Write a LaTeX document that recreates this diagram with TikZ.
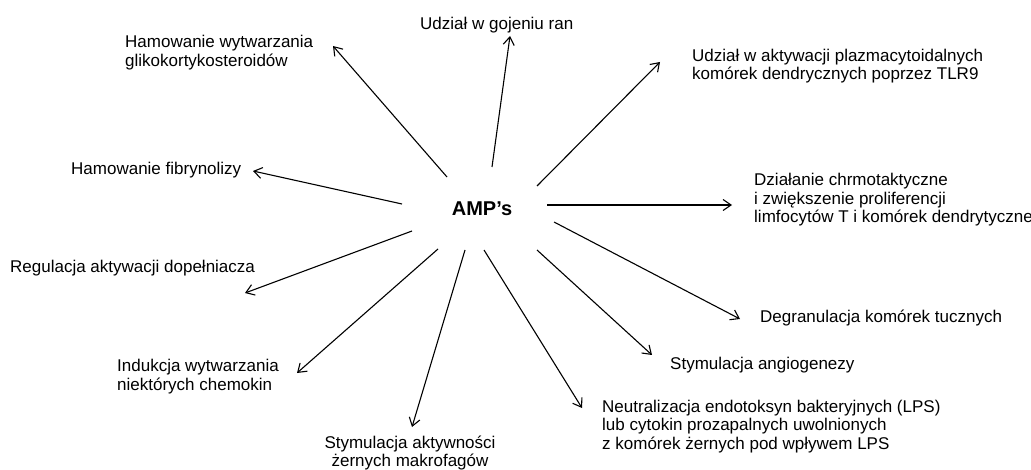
\documentclass[tikz,border=0pt]{standalone}
\usepackage{fontspec}
\setmainfont{Liberation Sans}
\usetikzlibrary{arrows.meta}
\newcommand{\lblfont}{\fontsize{17}{18.5}\selectfont}
\tikzset{
  lbl/.style={font=\lblfont, inner sep=0pt, align=left, anchor=base west},
  arr/.style={-{Straight Barb[length=8pt,width=11pt]}, line width=1.1pt},
}

\begin{document}
\begin{tikzpicture}[x=1pt, y=-1pt]
\useasboundingbox (0,0) rectangle (1031,470);
% centre
\node[font=\fontsize{20}{24}\selectfont\bfseries] (amp) at (482,209) {AMP’s};

% labels above (multi-line ones sit on their last line)
\node[lbl] (goj) at (420,30) {Udział w gojeniu ran};
\node[lbl] (glik) at (125,66.5) {Hamowanie wytwarzania\\glikokortykosteroidów};
\node[lbl] (tlr) at (692,80) {Udział w aktywacji plazmacytoidalnych\\komórek dendrycznych poprzez TLR9};
\node[lbl] (fib) at (71,175) {Hamowanie fibrynolizy};
\node[lbl] (chem) at (754,223) {Działanie chrmotaktyczne\\i zwiększenie proliferencji\\limfocytów T i komórek dendrytyczne};
% labels below
\node[lbl] (reg) at (10,273) {Regulacja aktywacji dopełniacza};
\node[lbl] (deg) at (760,323) {Degranulacja komórek tucznych};
\node[lbl] (ang) at (670,370) {Stymulacja angiogenezy};
\node[lbl] (ind) at (117,390) {Indukcja wytwarzania\\niektórych chemokin};
\node[lbl] (lps) at (602,449) {Neutralizacja endotoksyn bakteryjnych (LPS)\\lub cytokin prozapalnych uwolnionych\\z komórek żernych pod wpływem LPS};
\node[lbl, align=center, anchor=base] (mak) at (410,466.5) {Stymulacja aktywności\\żernych makrofagów};

% arrow tips
\coordinate (tglik) at (333,46);
\coordinate (tgoj) at (510,36);
\coordinate (tfib) at (253,171);
\coordinate (ttlr) at (660,62);
\coordinate (tchem) at (732,205);
\coordinate (tdeg) at (740,319);
\coordinate (tang) at (652,355);
\coordinate (tlps) at (582,408);
\coordinate (tmak) at (412,427);
\coordinate (tind) at (297,373);
\coordinate (treg) at (245,293);

% arrows
\draw[arr] ([shift={(-35,-32)}]amp.center) -- (tglik);
\draw[arr] ([shift={(10,-42)}]amp.center) -- (tgoj);
\draw[arr] ([shift={(-80,-5)}]amp.center) -- (tfib);
\draw[arr] ([shift={(55,-23)}]amp.center) -- (ttlr);
\draw[arr] ([shift={(65,-4)}]amp.center) -- (tchem);
\draw[arr] ([shift={(72,13)}]amp.center) -- (tdeg);
\draw[arr] ([shift={(55,41)}]amp.center) -- (tang);
\draw[arr] ([shift={(2,41)}]amp.center) -- (tlps);
\draw[arr] ([shift={(-17,41)}]amp.center) -- (tmak);
\draw[arr] ([shift={(-44,40)}]amp.center) -- (tind);
\draw[arr] ([shift={(-70,22)}]amp.center) -- (treg);
\end{tikzpicture}
\end{document}
